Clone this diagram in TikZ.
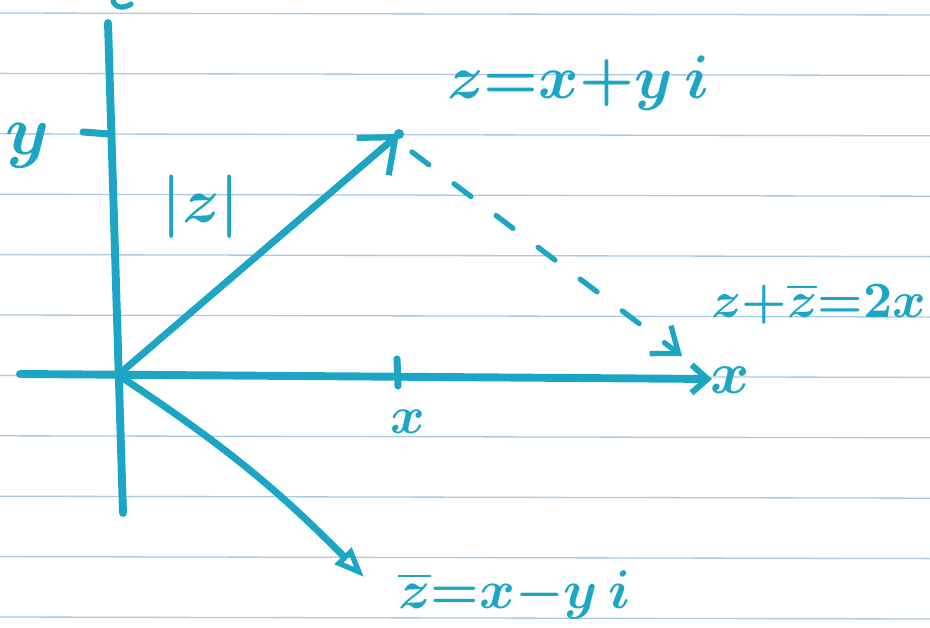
\documentclass[tikz,border=0pt]{standalone}
\usetikzlibrary{arrows.meta}
\definecolor{ink}{RGB}{28,166,196}
\definecolor{ruleblue}{RGB}{172,202,226}
\begin{document}
\begin{tikzpicture}[x=0.02cm,y=-0.02cm,
  pen/.style={draw=ink,line width=4pt,line cap=round,line join=round},
  axisline/.style={pen,line width=4.5pt},
  ruling/.style={draw=ruleblue,line width=0.75pt},
  lbl/.style={text=ink,inner sep=0pt,font=\boldmath},
]
\useasboundingbox (0,0) rectangle (930,628);
\fill[white] (0,0) rectangle (930,628);
% ruled paper
\foreach \yy in {13,73.4,133.8,194.2,254.6,315,375.4,435.8,496.2,556.6,617}
  \draw[ruling] (0,\yy) -- (930,\yy+2);

% key points
\coordinate (O) at (118,375);
\coordinate (Ytop) at (108,23);
\coordinate (Ybot) at (123,513);
\coordinate (Xleft) at (20,374);
\coordinate (Xright) at (712,379);
\coordinate (Z) at (399,134);
\coordinate (Zb) at (364,577);
\coordinate (Ds) at (412,152);
\coordinate (De) at (682,356);
\coordinate (Ty1) at (83,132);
\coordinate (Ty2) at (109,134);
\coordinate (Tx1) at (397,359);
\coordinate (Tx2) at (398,386);

% fragment of a cut-off letter at the top
\draw[pen,line width=3pt] (113,0) .. controls (114,8) and (124,9) .. (131,4);

% axes
\draw[axisline] (Ytop) -- (Ybot);
\draw[axisline,-{Straight Barb[length=9pt,width=16pt,line width=3.5pt]}] (Xleft) -- (Xright);
% ticks
\draw[pen] (Ty1) -- (Ty2);
\draw[pen] (Tx1) -- (Tx2);

% vector z
\draw[pen,-{Straight Barb[length=17pt,width=28pt,line width=3.5pt]}] (O) -- (Z);
\fill[ink] (Z) circle (5);
% vector z bar
\draw[pen,-{Triangle[open,length=17pt,width=13pt,line width=3pt]}] (O) to[bend left=6] (Zb);
% dashed sum arrow
\draw[pen,line width=3pt,dash pattern=on 12pt off 18pt,
  -{Straight Barb[length=13pt,width=20pt,line width=3pt]}] (Ds) -- (De);

% labels
\node[lbl,scale=4,anchor=center] (ly) at (28,146) {$y$};
\node[lbl,scale=3.6] (lmod) at (201,207) {$|z|$};
\node[lbl,scale=3.5,anchor=base west] (lz) at (446,99) {$z{=}x{+}y\,i$};
\node[lbl,scale=2.9,anchor=base west] (lsum) at (710,317) {$z{+}\overline{z}{=}2x$};
\node[lbl,scale=3.1,anchor=base west] (lzb) at (397,608) {$\overline{z}{=}x{-}y\,i$};
\node[lbl,scale=3,anchor=center] (lx) at (408,422) {$x$};
\node[lbl,scale=3.4,anchor=west] (lax) at (709,380) {$x$};
\end{tikzpicture}
\end{document}
